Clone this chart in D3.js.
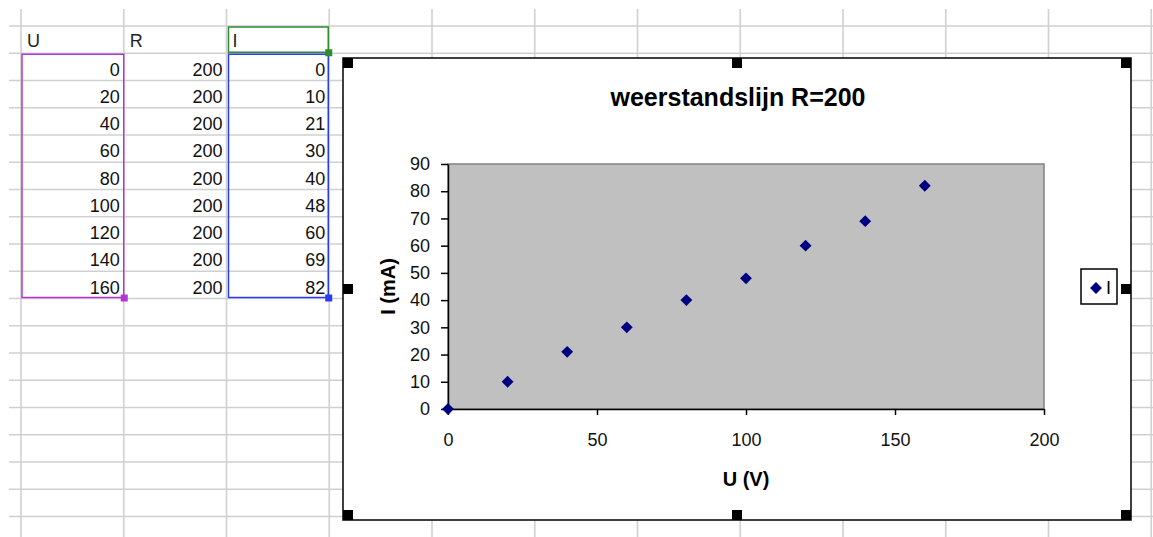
<!DOCTYPE html>
<html>
<head>
<meta charset="utf-8">
<script src="https://cdn.jsdelivr.net/npm/d3@7"></script>
<style>
  body { margin: 0; background: #fff; }
  svg { display: block; font-family: "Liberation Sans", Arial, sans-serif; }
</style>
</head>
<body>
<div id="sheet"></div>
<script>
// Data from the worksheet
const headers = ["U", "R", "I"];
const voltage = [0, 20, 40, 60, 80, 100, 120, 140, 160];
const resistance = [200, 200, 200, 200, 200, 200, 200, 200, 200];
const current = [0, 10, 21, 30, 40, 48, 60, 69, 82];
const xTicks = [0, 50, 100, 150, 200];
const yTicks = [0, 10, 20, 30, 40, 50, 60, 70, 80, 90];

const width = 1153;
const height = 537;

const svg = d3.select("#sheet")
  .append("svg")
    .attr("width", width)
    .attr("height", height)
    .attr("viewBox", `0 0 ${width} ${height}`);

/*******************************/
/*      Spreadsheet grid       */
/*******************************/
const colW = 102.75;
const rowH = 27.25;
const colX = d3.range(12).map(i => 21 + i * colW);
const rowY = d3.range(20).map(i => 26 + i * rowH);

const grid = svg.append("g").attr("stroke", "#d0d0d0").attr("stroke-width", 1.6);
grid.selectAll("line.h")
  .data(rowY)
  .join("line")
    .attr("class", "h")
    .attr("x1", 9).attr("x2", width)
    .attr("y1", d => d).attr("y2", d => d);
grid.selectAll("line.v")
  .data(colX)
  .join("line")
    .attr("class", "v")
    .attr("x1", d => d).attr("x2", d => d)
    .attr("y1", 9).attr("y2", height);

// Cell text
const cellFont = 18;
svg.append("g")
  .selectAll("text")
  .data(headers)
  .join("text")
    .attr("x", (d, i) => colX[i] + 6)
    .attr("y", rowY[1] - 6)
    .attr("font-size", cellFont)
    .attr("fill", "#222")
    .text(d => d);

[voltage, resistance, current].forEach((col, c) => {
  svg.append("g")
    .selectAll("text")
    .data(col)
    .join("text")
      .attr("x", colX[c + 1] - 4)
      .attr("y", (d, i) => rowY[i + 2] - 5)
      .attr("text-anchor", "end")
      .attr("font-size", cellFont)
      .attr("fill", "#111")
      .text(d => d);
});

// Range selection boxes
const lastRow = rowY[voltage.length + 1];
const boxes = [
  {x0: colX[0] + 1, x1: colX[1], y0: rowY[1] + 1, y1: lastRow - 1, color: "#b236d6"},
  {x0: colX[2] + 2, x1: colX[3] - 1, y0: rowY[1] + 1, y1: lastRow - 1, color: "#2a3cf0"},
  {x0: colX[2] + 2, x1: colX[3] - 1, y0: rowY[0] + 1, y1: rowY[1] - 1, color: "#2e8b2e"}
];
boxes.forEach(b => {
  svg.append("rect")
    .attr("x", b.x0).attr("y", b.y0)
    .attr("width", b.x1 - b.x0).attr("height", b.y1 - b.y0)
    .attr("fill", "none")
    .attr("stroke", b.color)
    .attr("stroke-width", 1.5);
  svg.append("rect")
    .attr("x", b.x1 - 3).attr("y", b.y1 - 3)
    .attr("width", 7).attr("height", 7)
    .attr("fill", b.color);
});

/*******************************/
/*         Chart object        */
/*******************************/
const chart = {x0: 343, y0: 58, x1: 1131, y1: 520};
svg.append("rect")
  .attr("x", chart.x0).attr("y", chart.y0)
  .attr("width", chart.x1 - chart.x0).attr("height", chart.y1 - chart.y0)
  .attr("fill", "#fff")
  .attr("stroke", "#000")
  .attr("stroke-width", 1.5);

// Selection handles
const hx = [chart.x0, (chart.x0 + chart.x1) / 2, chart.x1];
const hy = [chart.y0, (chart.y0 + chart.y1) / 2, chart.y1];
const handles = [];
hx.forEach((x, i) => hy.forEach((y, j) => {
  if (i !== 1 || j !== 1) handles.push({x, y, i, j});
}));
svg.append("g")
  .selectAll("rect")
  .data(handles)
  .join("rect")
    .attr("x", d => d.i === 0 ? d.x : d.i === 2 ? d.x - 10 : d.x - 5)
    .attr("y", d => d.j === 0 ? d.y : d.j === 2 ? d.y - 10 : d.y - 5)
    .attr("width", 10).attr("height", 10)
    .attr("fill", "#000");

// Title
svg.append("text")
  .attr("x", 738)
  .attr("y", 106)
  .attr("text-anchor", "middle")
  .attr("font-size", 25)
  .attr("font-weight", "bold")
  .text("weerstandslijn R=200");

// Plot area
const xScale = d3.scaleLinear().domain([0, 200]).range([448, 1044]);
const yScale = d3.scaleLinear().domain([0, 90]).range([409, 164]);

svg.append("rect")
  .attr("x", xScale(0)).attr("y", yScale(90))
  .attr("width", xScale(200) - xScale(0))
  .attr("height", yScale(0) - yScale(90))
  .attr("fill", "#c0c0c0")
  .attr("stroke", "#808080")
  .attr("stroke-width", 1.5);

// Axes
const bottomAxis = d3.axisBottom(xScale)
  .tickValues(xTicks)
  .tickSize(6)
  .tickSizeOuter(0)
  .tickPadding(18);
const xAxis = svg.append("g")
  .attr("transform", `translate(0, ${yScale(0)})`)
  .call(bottomAxis);

const leftAxis = d3.axisLeft(yScale)
  .tickValues(yTicks)
  .tickSize(7)
  .tickSizeOuter(0)
  .tickPadding(11);
const yAxis = svg.append("g")
  .attr("transform", `translate(${xScale(0)}, 0)`)
  .call(leftAxis);

[xAxis, yAxis].forEach(ax => {
  ax.select(".domain").attr("stroke", "#000").attr("stroke-width", 1.5);
  ax.selectAll(".tick line").attr("stroke", "#000").attr("stroke-width", 1.5);
  ax.selectAll(".tick text")
    .attr("font-size", 18)
    .attr("font-family", "'Liberation Sans', Arial, sans-serif")
    .attr("fill", "#111");
});

// Axis titles
svg.append("text")
  .attr("x", (xScale(0) + xScale(200)) / 2)
  .attr("y", 486)
  .attr("text-anchor", "middle")
  .attr("font-size", 20)
  .attr("font-weight", "bold")
  .text("U (V)");

svg.append("text")
  .attr("transform", `translate(395, ${(yScale(0) + yScale(90)) / 2}) rotate(-90)`)
  .attr("text-anchor", "middle")
  .attr("font-size", 20)
  .attr("font-weight", "bold")
  .text("I (mA)");

// Points
const points = voltage.map((u, i) => ({u, i: current[i]}));
const diamond = d3.symbol().type(d3.symbolDiamond2).size(90);
svg.append("g")
  .selectAll("path")
  .data(points)
  .join("path")
    .attr("d", diamond)
    .attr("transform", d => `translate(${xScale(d.u)}, ${yScale(d.i)})`)
    .attr("fill", "#000080");

// Legend
const legend = svg.append("g").attr("transform", "translate(1081, 269)");
legend.append("rect")
  .attr("width", 36).attr("height", 35)
  .attr("fill", "#fff")
  .attr("stroke", "#000")
  .attr("stroke-width", 1.5);
legend.append("path")
  .attr("d", diamond)
  .attr("transform", "translate(15, 19)")
  .attr("fill", "#000080");
legend.append("text")
  .attr("x", 25)
  .attr("y", 25)
  .attr("font-size", 18)
  .text("I");
</script>
</body>
</html>
